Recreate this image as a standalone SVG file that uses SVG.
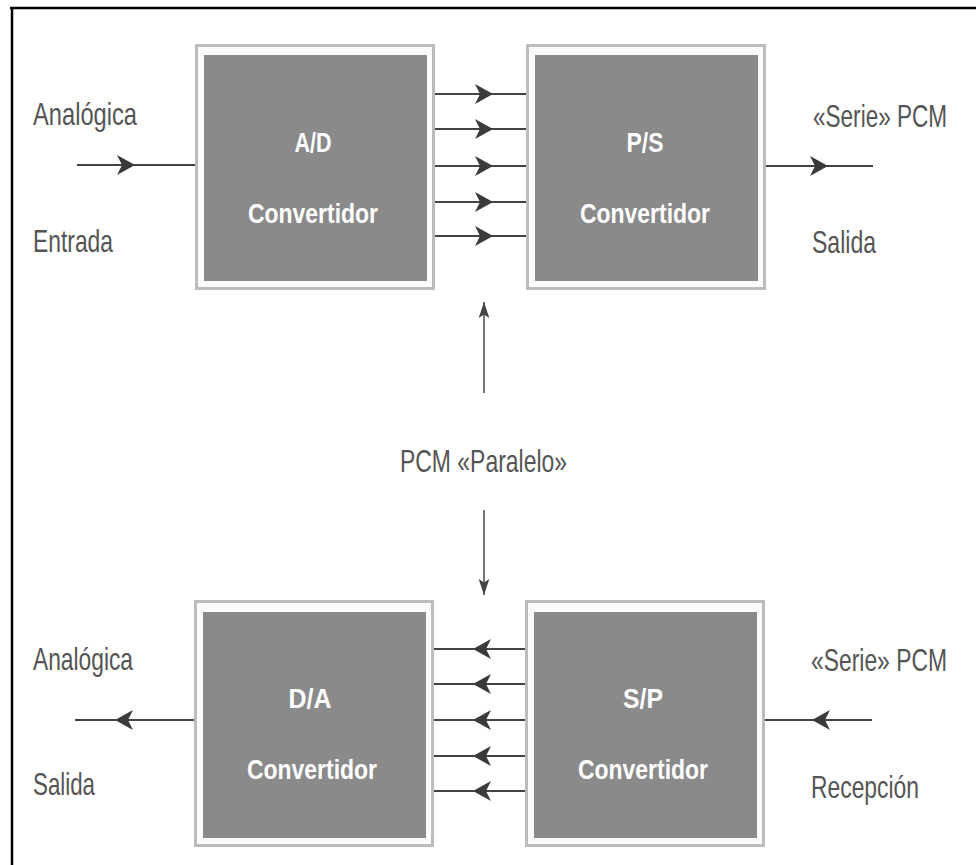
<svg xmlns="http://www.w3.org/2000/svg" xmlns:xlink="http://www.w3.org/1999/xlink" width="976" height="865" viewBox="0 0 976 865">
<style>
.lbl{font-family:"Liberation Sans",Arial,sans-serif;font-size:32px;fill:#555;}
.bt{font-family:"Liberation Sans",Arial,sans-serif;font-size:28px;font-weight:bold;fill:#fff;text-anchor:middle;}
.outer{fill:#bcbcbc;}
.gap{fill:#fbfbfb;}
.dark{fill:#8a8a8a;}
.ln{stroke:#444;stroke-width:2;fill:none;}
.vl{stroke:#555;stroke-width:1.6;fill:none;}
</style>
<defs>
<marker id="ah" markerUnits="userSpaceOnUse" markerWidth="20" markerHeight="22" refX="18" refY="10" orient="auto" viewBox="0 0 20 20">
<path d="M0,0 L18,10 L0,20 L5,10 Z" fill="#3a3a3a"/>
</marker>
<marker id="vh" markerUnits="userSpaceOnUse" markerWidth="16" markerHeight="22" refX="18" refY="6" orient="auto" viewBox="0 0 18 12">
<path d="M0,0 L18,6 L0,12 L4,6 Z" fill="#444"/>
</marker>
</defs>
<rect x="0" y="0" width="976" height="865" fill="#fff"/>
<g id="frame">
<line x1="10" y1="8" x2="976" y2="8" stroke="#000" stroke-width="2.5"/>
<line x1="12" y1="7" x2="12" y2="865" stroke="#000" stroke-width="2.5"/>
</g>
<g id="ad">
<rect class="outer" x="195" y="44" width="240" height="246"/>
<rect class="gap" x="198" y="47" width="234" height="240"/>
<rect class="dark" x="204" y="55" width="223" height="226"/>
<text class="bt" x="313" y="152" textLength="37" lengthAdjust="spacingAndGlyphs">A/D</text>
<text class="bt" x="313" y="223" textLength="130" lengthAdjust="spacingAndGlyphs">Convertidor</text>
</g>
<g id="ps">
<rect class="outer" x="526" y="44" width="240" height="246"/>
<rect class="gap" x="529" y="47" width="234" height="240"/>
<rect class="dark" x="535" y="55" width="223" height="226"/>
<text class="bt" x="645" y="152" textLength="37" lengthAdjust="spacingAndGlyphs">P/S</text>
<text class="bt" x="645" y="223" textLength="130" lengthAdjust="spacingAndGlyphs">Convertidor</text>
</g>
<g id="da">
<rect class="outer" x="194" y="600" width="240" height="247"/>
<rect class="gap" x="197" y="603" width="234" height="241"/>
<rect class="dark" x="203" y="612" width="223" height="226"/>
<text class="bt" x="310" y="708" textLength="43" lengthAdjust="spacingAndGlyphs">D/A</text>
<text class="bt" x="312" y="779" textLength="130" lengthAdjust="spacingAndGlyphs">Convertidor</text>
</g>
<g id="sp">
<rect class="outer" x="525" y="600" width="240" height="247"/>
<rect class="gap" x="528" y="603" width="234" height="241"/>
<rect class="dark" x="534" y="612" width="223" height="226"/>
<text class="bt" x="643" y="708" textLength="40" lengthAdjust="spacingAndGlyphs">S/P</text>
<text class="bt" x="643" y="779" textLength="130" lengthAdjust="spacingAndGlyphs">Convertidor</text>
</g>
<g id="labels">
<text class="lbl" x="33" y="125" textLength="104" lengthAdjust="spacingAndGlyphs">Analógica</text>
<text class="lbl" x="33" y="252" textLength="80" lengthAdjust="spacingAndGlyphs">Entrada</text>
<text class="lbl" transform="translate(813,127) scale(0.705,1)">«Serie» PCM</text>
<text class="lbl" x="812" y="253" textLength="64" lengthAdjust="spacingAndGlyphs">Salida</text>
<text class="lbl" x="400" y="472" textLength="167" lengthAdjust="spacingAndGlyphs">PCM «Paralelo»</text>
<text class="lbl" x="33" y="670" textLength="100" lengthAdjust="spacingAndGlyphs">Analógica</text>
<text class="lbl" x="33" y="795" textLength="62" lengthAdjust="spacingAndGlyphs">Salida</text>
<text class="lbl" transform="translate(811,671) scale(0.715,1)">«Serie» PCM</text>
<text class="lbl" x="811" y="798" textLength="108" lengthAdjust="spacingAndGlyphs">Recepción</text>
</g>
<g id="connectors">
<polyline class="ln" points="77,165 135,165 195,165" marker-mid="url(#ah)"/>
<polyline class="ln" points="766,166 828,166 873,166" marker-mid="url(#ah)"/>
<polyline class="ln" points="435,94 493,94 526,94" marker-mid="url(#ah)"/>
<polyline class="ln" points="435,129 493,129 526,129" marker-mid="url(#ah)"/>
<polyline class="ln" points="435,166 493,166 526,166" marker-mid="url(#ah)"/>
<polyline class="ln" points="435,202 493,202 526,202" marker-mid="url(#ah)"/>
<polyline class="ln" points="435,236 493,236 526,236" marker-mid="url(#ah)"/>
<polyline class="ln" points="525,649 473,649 434,649" marker-mid="url(#ah)"/>
<polyline class="ln" points="525,684 473,684 434,684" marker-mid="url(#ah)"/>
<polyline class="ln" points="525,720 473,720 434,720" marker-mid="url(#ah)"/>
<polyline class="ln" points="525,756 473,756 434,756" marker-mid="url(#ah)"/>
<polyline class="ln" points="525,791 473,791 434,791" marker-mid="url(#ah)"/>
<polyline class="ln" points="194,720 115,720 75,720" marker-mid="url(#ah)"/>
<polyline class="ln" points="872,720 812,720 765,720" marker-mid="url(#ah)"/>
<line class="vl" x1="484" y1="393" x2="484" y2="302" marker-end="url(#vh)"/>
<line class="vl" x1="484" y1="510" x2="484" y2="595" marker-end="url(#vh)"/>
</g>
</svg>
